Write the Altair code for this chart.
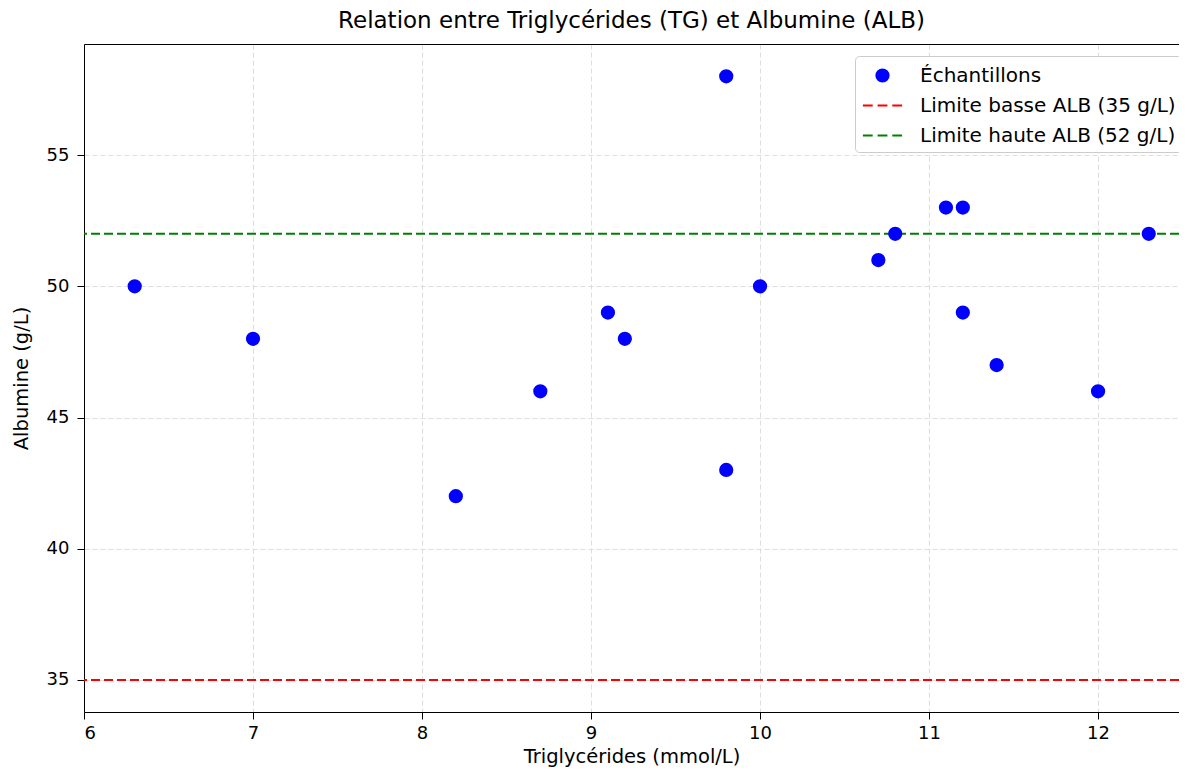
import altair as alt
import pandas as pd

# ---- data ----
tg = [6.3, 7.0, 8.2, 8.7, 9.1, 9.2, 9.8, 9.8, 10.0, 10.7, 10.8, 11.1, 11.2, 11.2, 11.4, 12.0, 12.3]
alb = [50, 48, 42, 46, 49, 48, 58, 43, 50, 51, 52, 53, 53, 49, 47, 46, 52]

series_names = ["Échantillons", "Limite basse ALB (35 g/L)", "Limite haute ALB (52 g/L)"]
series_colors = ["#0000ff", "#ff0000", "#008000"]
limit_values = [35, 52]
limit_colors = ["#ff0000", "#008000"]

x_ticks = [6, 7, 8, 9, 10, 11, 12]
y_ticks = [35, 40, 45, 50, 55]

FONT = "DejaVu Sans"

points = pd.DataFrame({"tg": tg, "alb": alb, "serie": series_names[0]})
limits = pd.DataFrame({"val": limit_values, "couleur": limit_colors})

circle_path = "M-0.5,0A0.5,0.5,0,1,1,0.5,0A0.5,0.5,0,1,1,-0.5,0Z"
dash_path = "M-1.6,0L-0.8,0M-0.4,0L0.4,0M0.8,0L1.6,0"

x_scale = alt.Scale(domain=[6, 12.479], nice=False, zero=False)
y_scale = alt.Scale(domain=[33.78, 59.23], nice=False, zero=False)

legend = alt.Legend(
    title=None,
    orient="none",
    legendX=771,
    legendY=12,
    fillColor="white",
    strokeColor="#cccccc",
    cornerRadius=4,
    padding=6,
    symbolOffset=8,
    labelOffset=24,
    rowPadding=6,
    symbolSize=600,
    symbolStrokeWidth=2,
    labelFont=FONT,
    labelFontSize=20,
    labelColor="#000000",
    labelLimit=400,
)

sc_fill = alt.Scale(domain=series_names, range=series_colors)
sc_shape = alt.Scale(domain=series_names, range=[circle_path, dash_path, dash_path])

pts = alt.Chart(points).mark_point(filled=True, size=600, opacity=1, strokeWidth=2).encode(
    x=alt.X("tg:Q", scale=x_scale,
            axis=alt.Axis(values=x_ticks, title="Triglycérides (mmol/L)", format="d",
                          orient="bottom")),
    y=alt.Y("alb:Q", scale=y_scale,
            axis=alt.Axis(values=y_ticks, title="Albumine (g/L)", format="d")),
    fill=alt.Fill("serie:N", scale=sc_fill, legend=legend),
    stroke=alt.Stroke("serie:N", scale=sc_fill, legend=legend),
    shape=alt.Shape("serie:N", scale=sc_shape, legend=legend),
)

rules = alt.Chart(limits).mark_rule(strokeDash=[9, 4], strokeWidth=2).encode(
    y=alt.Y("val:Q", scale=y_scale),
    color=alt.Color("couleur:N", scale=None),
)

top_spine = alt.Chart(points).mark_point(opacity=0).encode(
    x=alt.X("tg:Q", scale=x_scale,
            axis=alt.Axis(orient="top", labels=False, ticks=False, grid=False,
                          title=None, domain=True)),
    y=alt.Y("alb:Q", scale=y_scale),
)

chart = alt.layer(rules, pts, top_spine).resolve_axis(x="independent").properties(
    width=1095,
    height=668,
    autosize=alt.AutoSizeParams(type="none"),
    padding={"left": 76, "top": 36, "right": 0, "bottom": 58},
    title=alt.TitleParams(
        "Relation entre Triglycérides (TG) et Albumine (ALB)",
        font=FONT, fontSize=23, fontWeight="normal", color="#000000",
        anchor="middle", frame="group", offset=11,
    ),
).configure_view(stroke=None).configure_axis(
    labelFont=FONT,
    labelFontSize=18,
    labelColor="#000000",
    titleFont=FONT,
    titleFontSize=19.5,
    titleFontWeight="normal",
    titleColor="#000000",
    domainColor="#000000",
    domainWidth=1,
    tickColor="#000000",
    tickSize=7,
    gridColor="#d0d0d0",
    gridDash=[5, 3],
    gridOpacity=0.7,
    gridWidth=1,
).configure_axisX(labelPadding=5, titlePadding=5).configure_axisY(labelPadding=8, titlePadding=15)

chart.save("out.html", embed_options={"renderer": "svg", "actions": False})
